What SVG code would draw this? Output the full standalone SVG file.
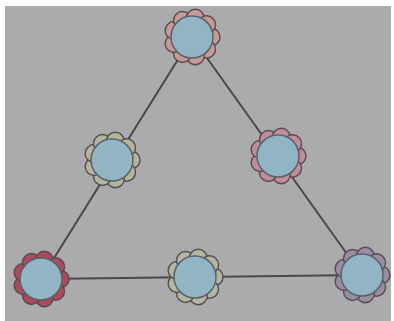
<svg xmlns="http://www.w3.org/2000/svg" xmlns:xlink="http://www.w3.org/1999/xlink" width="394" height="321" viewBox="0 0 394 321">
<defs>
<style>
.edge{stroke:#48484a;stroke-width:2;fill:none;stroke-linecap:round}
.ring circle{stroke:#554a4e;stroke-width:1.4}
.core{fill:#92b5c6;stroke:#5a6268;stroke-width:1.5}
</style>
<g id="ring" class="ring">
<circle cx="19" cy="0" r="9"/>
<circle cx="14.55" cy="12.21" r="9"/>
<circle cx="3.30" cy="18.71" r="9"/>
<circle cx="-9.5" cy="16.45" r="9"/>
<circle cx="-17.85" cy="6.50" r="9"/>
<circle cx="-17.85" cy="-6.50" r="9"/>
<circle cx="-9.5" cy="-16.45" r="9"/>
<circle cx="3.30" cy="-18.71" r="9"/>
<circle cx="14.55" cy="-12.21" r="9"/>
</g>
</defs>
<rect x="0" y="0" width="394" height="321" fill="#ffffff"/>
<rect x="5" y="6" width="386" height="315" fill="#abaaad"/>
<g id="connectors">
<line class="edge" x1="192" y1="37" x2="41" y2="279"/>
<line class="edge" x1="192" y1="37" x2="362" y2="275"/>
<line class="edge" x1="41" y1="279" x2="362" y2="275"/>
</g>
<g id="node-top" transform="translate(192,37)">
<use xlink:href="#ring" fill="#c79a98"/>
<circle class="core" r="21"/>
</g>
<g id="node-left" transform="translate(112,160)">
<use xlink:href="#ring" fill="#b6b39e"/>
<circle class="core" r="21"/>
</g>
<g id="node-right" transform="translate(278,156)">
<use xlink:href="#ring" fill="#c28c9c"/>
<circle class="core" r="21"/>
</g>
<g id="node-bottom-left" transform="translate(41,279)">
<use xlink:href="#ring" fill="#ad4a5c"/>
<circle class="core" r="21"/>
</g>
<g id="node-bottom-mid" transform="translate(195,277)">
<use xlink:href="#ring" fill="#b3b7a2"/>
<circle class="core" r="21"/>
</g>
<g id="node-bottom-right" transform="translate(362,275)">
<use xlink:href="#ring" fill="#9c8ca2"/>
<circle class="core" r="21"/>
</g>
</svg>
